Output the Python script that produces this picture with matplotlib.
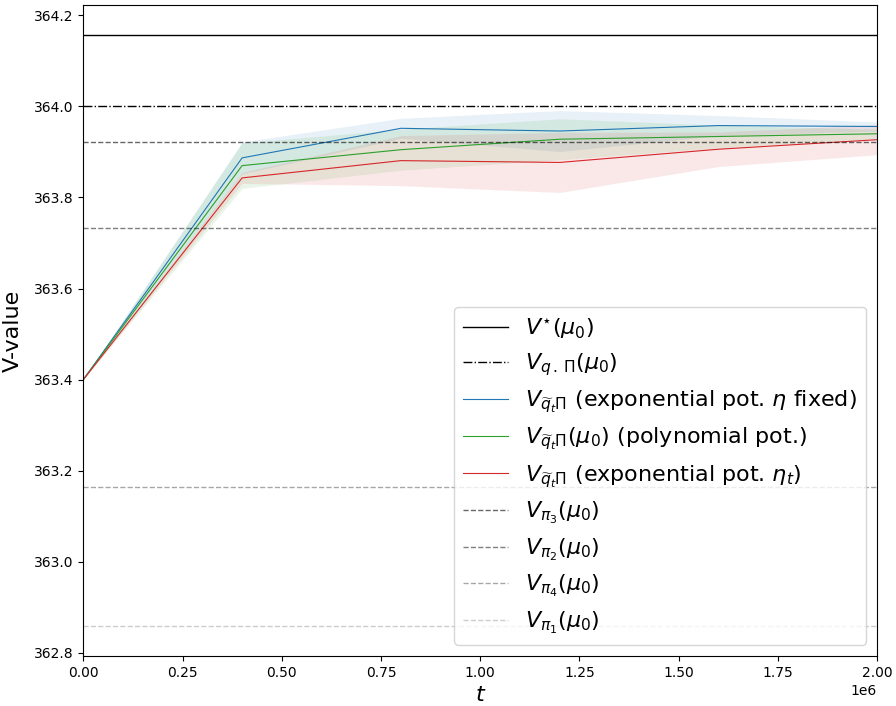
import numpy as np
from matplotlib import pyplot as plt

# time steps of the evaluation
t = [0, 0.4e6, 0.8e6, 1.2e6, 1.6e6, 2.0e6]

# mean / std of the V-value for the three potentials
v_exp_fixed = [363.400, 363.887, 363.952, 363.946, 363.958, 363.956]
s_exp_fixed = [0.000, 0.035, 0.022, 0.045, 0.022, 0.010]
v_poly = [363.400, 363.870, 363.905, 363.928, 363.934, 363.940]
s_poly = [0.000, 0.050, 0.045, 0.045, 0.025, 0.010]
v_exp_t = [363.400, 363.843, 363.881, 363.877, 363.906, 363.927]
s_exp_t = [0.000, 0.012, 0.055, 0.066, 0.038, 0.033]

# reference values
v_star = 364.158
v_q = 364.0
v_pi = {"3": 363.921, "2": 363.732, "4": 363.165, "1": 362.858}
pi_alpha = {"3": 0.6, "2": 0.5, "4": 0.35, "1": 0.2}

fig, ax = plt.subplots(figsize=(8.96, 7.06), dpi=100)
fig.subplots_adjust(left=0.093, right=0.979, top=0.993, bottom=0.071)

ax.axhline(v_star, color="black", lw=1.0, label=r"$V^{\star}(\mu_0)$")
ax.axhline(v_q, color="black", lw=1.0, ls="-.", label=r"$V_{q\,.\,\Pi}(\mu_0)$")

curves = [
    (v_exp_fixed, s_exp_fixed, "tab:blue", r"$V_{\widetilde{q}_t\Pi}$ (exponential pot. $\eta$ fixed)"),
    (v_poly, s_poly, "tab:green", r"$V_{\widetilde{q}_t\Pi}(\mu_0)$ (polynomial pot.)"),
    (v_exp_t, s_exp_t, "tab:red", r"$V_{\widetilde{q}_t\Pi}$ (exponential pot. $\eta_t$)"),
]
for m, s, c, lab in curves:
    m = np.asarray(m)
    s = np.asarray(s)
    ax.plot(t, m, color=c, lw=0.8, label=lab)
    ax.fill_between(t, m - s, m + s, color=c, alpha=0.1, lw=0)

for k in ["3", "2", "4", "1"]:
    ax.axhline(v_pi[k], color="black", alpha=pi_alpha[k], lw=1.0, ls="--",
               label=r"$V_{\pi_%s}(\mu_0)$" % k)

ax.set_xlim(0, 2e6)
ax.set_xticks(np.arange(0, 2.01e6, 0.25e6))
ax.set_xlabel(r"$t$", fontsize=16)
ax.set_ylabel("V-value", fontsize=16, labelpad=8)
ax.legend(loc="lower right", fontsize=16, labelspacing=0.47)

plt.savefig("out.png")
